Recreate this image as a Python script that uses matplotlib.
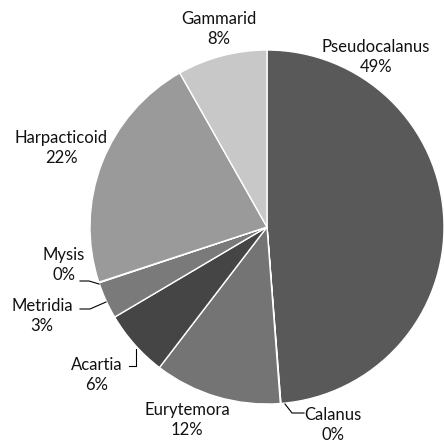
import matplotlib
matplotlib.use("Agg")
import matplotlib.pyplot as plt

categories = ["Pseudocalanus", "Calanus", "Eurytemora", "Acartia", "Metridia", "Mysis", "Harpacticoid", "Gammarid"]
values = [48.75, 0.05, 11.6, 6.1, 3.4, 0.05, 21.85, 8.2]
colors = ["#595959", "#595959", "#747474", "#444544", "#7a7a7a", "#7a7a7a", "#9a9a9a", "#c8c8c8"]

# label layout (pixel coordinates, y down)
label_pos = {
    "Pseudocalanus": (376, 57),
    "Calanus": (333, 425),
    "Eurytemora": (187, 420),
    "Acartia": (97, 375),
    "Metridia": (42, 316),
    "Mysis": (64, 265),
    "Harpacticoid": (61, 148),
    "Gammarid": (219, 29),
}
leaders = {
    "Mysis": [(80, 281), (89, 281), (99, 284)],
    "Metridia": [(80, 309), (90, 309), (106, 302)],
    "Acartia": [(129, 366), (136, 366), (136, 349)],
    "Calanus": [(304, 413), (292, 413), (285, 404)],
}

W, H = 444, 447
fig = plt.figure(figsize=(W / 100, H / 100), dpi=100)
ax = fig.add_axes([0, 0, 1, 1])

# y axis is inverted below, so startangle=-90 / counterclock=True
# renders as starting at the top and going clockwise
ax.pie(values, colors=colors, startangle=-90, counterclock=True,
       center=(267, 227), radius=177, frame=True,
       wedgeprops=dict(edgecolor="white", linewidth=1.0))
ax.set_xlim(0, W)
ax.set_ylim(H, 0)
ax.set_aspect("equal")
ax.axis("off")

for cat, v in zip(categories, values):
    x, y = label_pos[cat]
    ax.text(x, y, f"{cat}\n{round(v):d}%", ha="center", va="center",
            fontsize=12, family="Lato", color="#111111", linespacing=1.38)

for cat, pts in leaders.items():
    xs = [p[0] for p in pts]
    ys = [p[1] for p in pts]
    ax.plot(xs, ys, color="black", lw=0.8)

fig.savefig("out.png", dpi=100)
